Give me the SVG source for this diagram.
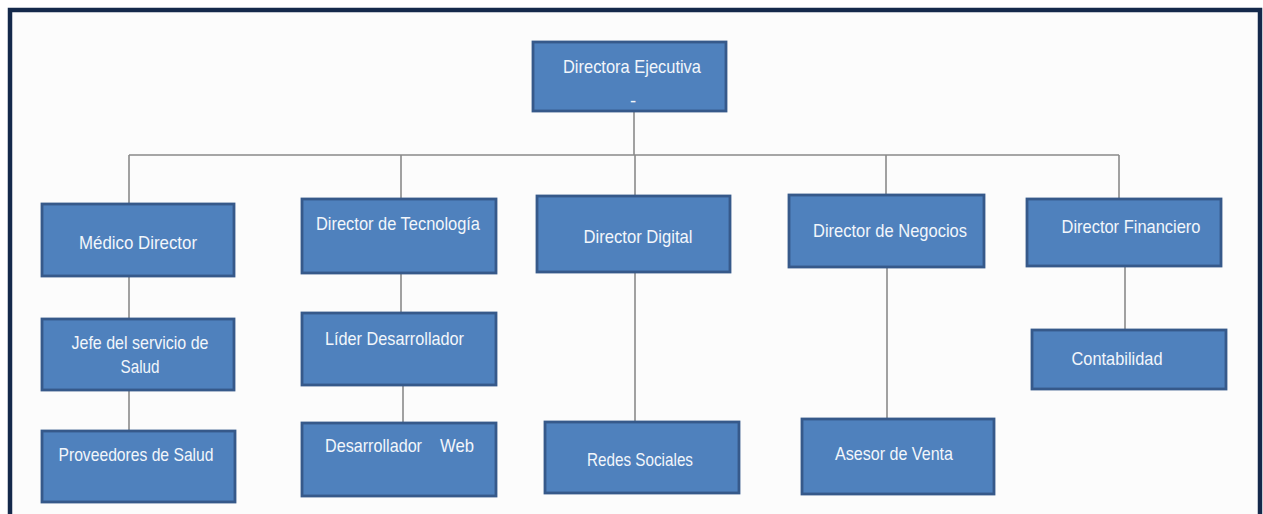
<svg xmlns="http://www.w3.org/2000/svg" width="1263" height="514" viewBox="0 0 1263 514">
<style>
.box{fill:#4f81bd;stroke:#36598a;stroke-width:2.8}
.t{font-family:"Liberation Sans",Arial,sans-serif;font-size:18.5px;fill:#f2f6fb;text-anchor:middle}
.tl{font-family:"Liberation Sans",Arial,sans-serif;font-size:18.5px;fill:#f2f6fb}
.c{stroke:#8a8a8a;stroke-width:1.6;fill:none}
</style>
<rect x="0" y="0" width="1263" height="514" fill="#ffffff"/>
<rect x="12" y="12" width="1246" height="502" fill="#fcfcfc"/>
<path d="M10,514 V10 H1260 V514" fill="none" stroke="#14294b" stroke-width="4.5"/>
<g id="connectors">
<path class="c" d="M634,111 V155"/>
<path class="c" d="M129,155 H1119"/>
<path class="c" d="M129,155 V204"/>
<path class="c" d="M401,155 V199"/>
<path class="c" d="M635,155 V196"/>
<path class="c" d="M886,155 V195"/>
<path class="c" d="M1119,155 V199"/>
<path class="c" d="M129,276 V319"/>
<path class="c" d="M129,390 V431"/>
<path class="c" d="M401,273 V313"/>
<path class="c" d="M403,385 V423"/>
<path class="c" d="M635,272 V422"/>
<path class="c" d="M887,267 V419"/>
<path class="c" d="M1125,266 V330"/>
</g>
<g id="n-ceo">
<rect class="box" x="533" y="42" width="193" height="69"/>
<text class="t" x="632" y="73" textLength="138" lengthAdjust="spacingAndGlyphs">Directora Ejecutiva</text>
<text class="t" x="633" y="107" font-size="10">-</text>
</g>
<g id="n-medico">
<rect class="box" x="42" y="204" width="192" height="72"/>
<text class="t" x="138" y="249" textLength="118" lengthAdjust="spacingAndGlyphs">Médico Director</text>
</g>
<g id="n-tecnologia">
<rect class="box" x="302" y="199" width="194" height="74"/>
<text class="t" x="398" y="230" textLength="164" lengthAdjust="spacingAndGlyphs">Director de Tecnología</text>
</g>
<g id="n-digital">
<rect class="box" x="537" y="196" width="193" height="76"/>
<text class="t" x="638" y="243" textLength="109" lengthAdjust="spacingAndGlyphs">Director Digital</text>
</g>
<g id="n-negocios">
<rect class="box" x="789" y="195" width="195" height="72"/>
<text class="t" x="890" y="237" textLength="154" lengthAdjust="spacingAndGlyphs">Director de Negocios</text>
</g>
<g id="n-financiero">
<rect class="box" x="1027" y="199" width="194" height="67"/>
<text class="t" x="1131" y="233" textLength="139" lengthAdjust="spacingAndGlyphs">Director Financiero</text>
</g>
<g id="n-jefe">
<rect class="box" x="42" y="319" width="192" height="71"/>
<text class="t" x="140" y="349" textLength="137" lengthAdjust="spacingAndGlyphs">Jefe del servicio de</text>
<text class="t" x="140" y="373" textLength="39" lengthAdjust="spacingAndGlyphs">Salud</text>
</g>
<g id="n-proveedores">
<rect class="box" x="42" y="431" width="193" height="71"/>
<text class="t" x="136" y="461" textLength="155" lengthAdjust="spacingAndGlyphs">Proveedores de Salud</text>
</g>
<g id="n-lider">
<rect class="box" x="302" y="313" width="194" height="72"/>
<text class="t" x="394.5" y="345" textLength="139" lengthAdjust="spacingAndGlyphs">Líder Desarrollador</text>
</g>
<g id="n-web">
<rect class="box" x="302" y="423" width="194" height="73"/>
<text class="tl" y="452"><tspan x="325" textLength="97" lengthAdjust="spacingAndGlyphs">Desarrollador</tspan><tspan x="440" textLength="34" lengthAdjust="spacingAndGlyphs">Web</tspan></text>
</g>
<g id="n-redes">
<rect class="box" x="545" y="422" width="194" height="71"/>
<text class="t" x="640" y="466" textLength="106" lengthAdjust="spacingAndGlyphs">Redes Sociales</text>
</g>
<g id="n-asesor">
<rect class="box" x="802" y="419" width="192" height="75"/>
<text class="t" x="894" y="460" textLength="118" lengthAdjust="spacingAndGlyphs">Asesor de Venta</text>
</g>
<g id="n-contabilidad">
<rect class="box" x="1032" y="330" width="194" height="59"/>
<text class="t" x="1117" y="365" textLength="91" lengthAdjust="spacingAndGlyphs">Contabilidad</text>
</g>
</svg>
